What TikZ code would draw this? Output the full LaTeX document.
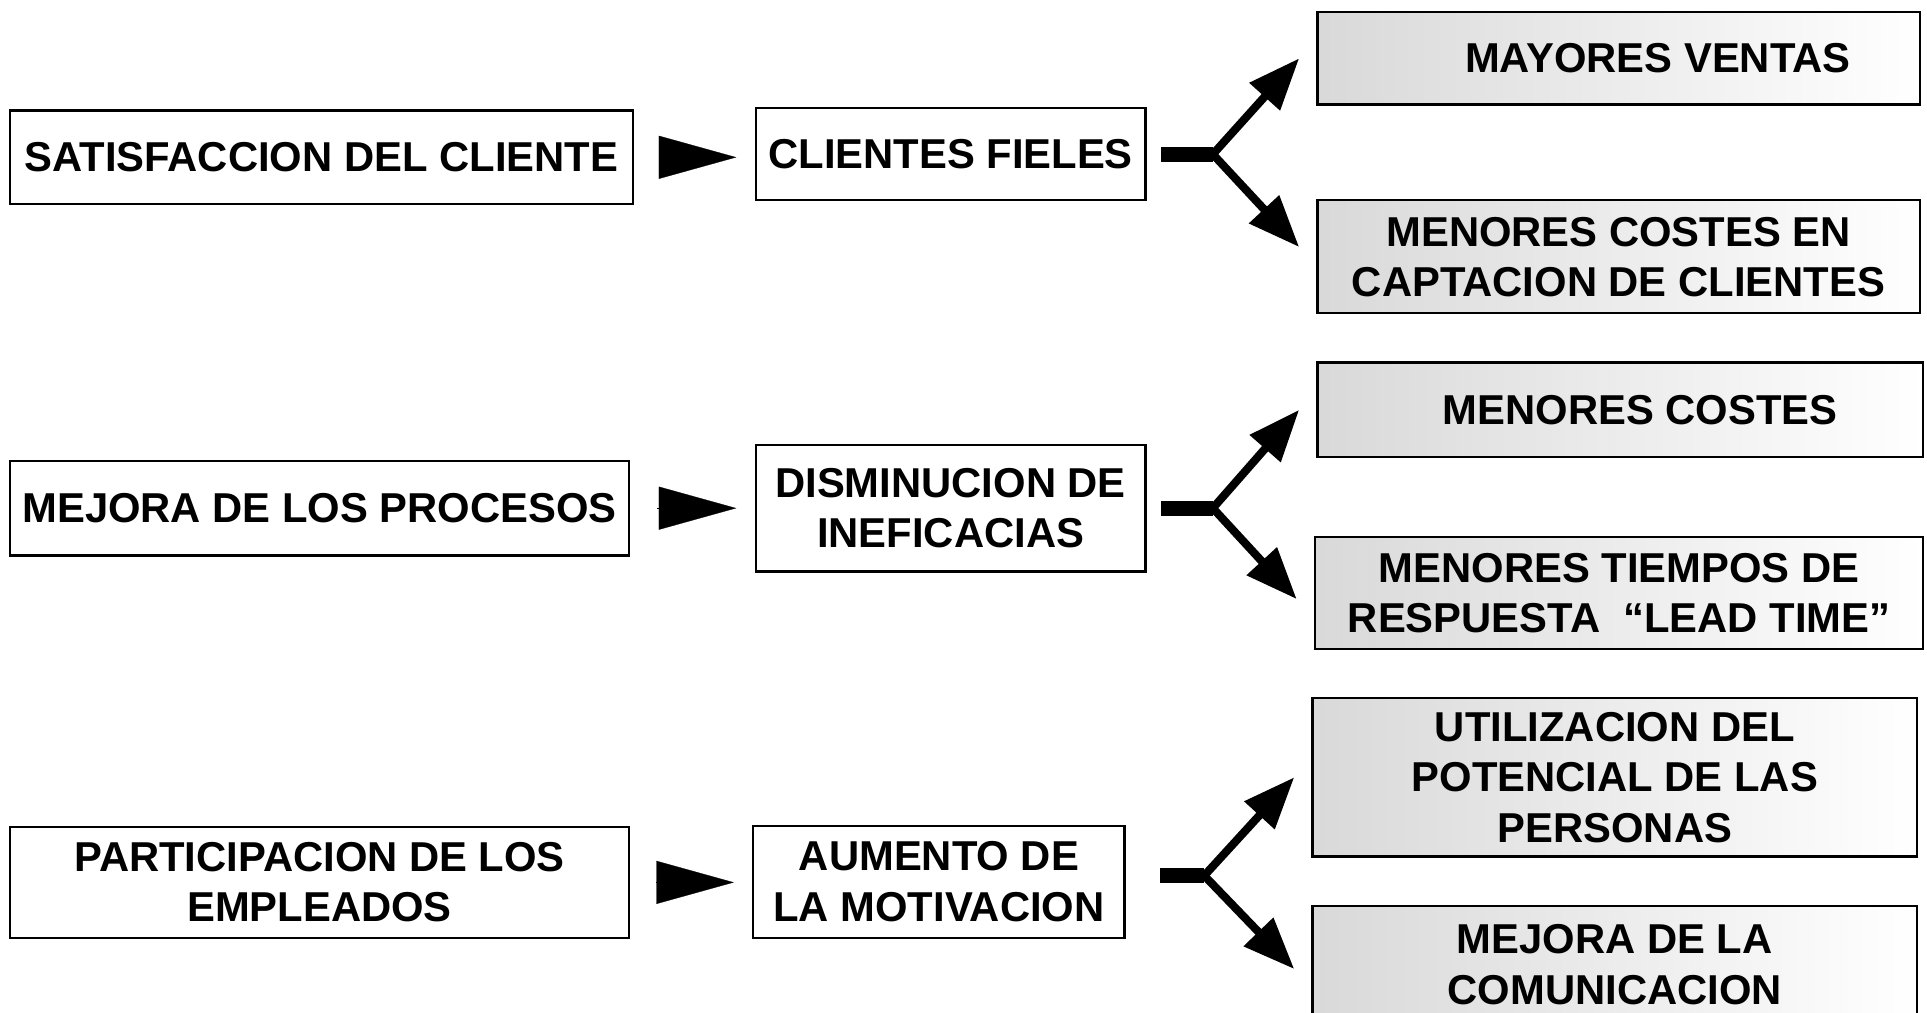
\documentclass[tikz,border=0pt]{standalone}
\usepackage{fontspec}
\setmainfont{Liberation Sans}
\usetikzlibrary{arrows.meta}
\tikzset{
  box/.style={draw=black, line width=0.9pt, fill=white, inner sep=0pt, align=center,
    font=\bfseries\fontsize{17}{20.5}\selectfont},
  gbox/.style={box, left color=black!15, middle color=black!6, right color=white},
  tri/.style={line width=0.1pt, -{Triangle[length=31.5pt,width=17.5pt]}, shorten <=11pt, shorten >=7.5pt},
  stem/.style={line width=6pt},
  branch/.style={line width=3.3pt, line join=round, -{Triangle[length=21pt,width=16pt]}}
}
\begin{document}
\begin{tikzpicture}[x=0.5pt, y=-0.5pt]
\useasboundingbox (0,0) rectangle (1568,824);
\fill[white] (0,0) rectangle (1568,824);
% row 1
\node[box, minimum width=253.5pt, minimum height=38pt] (A1) at (261.5,128) {SATISFACCION DEL CLIENTE};
\node[box, minimum width=158.5pt, minimum height=37.5pt] (B1) at (773.5,125.5) {CLIENTES FIELES};
\node[gbox, minimum width=245pt, minimum height=37.5pt] (C1) at (1317,47.5) {\hspace*{32pt}MAYORES VENTAS};
\node[gbox, minimum width=245pt, minimum height=46pt] (D1) at (1317,209) {MENORES COSTES EN\\CAPTACION DE CLIENTES};
% row 2
\node[box, minimum width=252pt, minimum height=38.5pt] (A2) at (260,413.5) {MEJORA DE LOS PROCESOS};
\node[box, minimum width=158.5pt, minimum height=51.5pt] (B2) at (773.5,413.5) {DISMINUCION DE\\INEFICACIAS};
\node[gbox, minimum width=246.5pt, minimum height=38.5pt] (C2) at (1318.5,333.5) {\hspace*{16pt}MENORES COSTES};
\node[gbox, minimum width=247.5pt, minimum height=45.5pt] (D2) at (1317.5,482.5) {MENORES TIEMPOS DE\\RESPUESTA\ \ ``LEAD TIME''};
% row 3
\node[box, minimum width=252pt, minimum height=45pt] (A3) at (260,718) {PARTICIPACION DE LOS\\EMPLEADOS};
\node[box, minimum width=151pt, minimum height=45.5pt] (B3) at (764,717.5) {AUMENTO DE\\LA MOTIVACION};
\node[gbox, minimum width=246pt, minimum height=64.5pt] (C3) at (1314,632.5) {UTILIZACION DEL\\POTENCIAL DE LAS\\PERSONAS};
\node[gbox, minimum width=246pt, minimum height=51.5pt] (D3) at (1314,788.5) {\raisebox{3.5pt}{\begin{tabular}{@{}c@{}}MEJORA DE LA\\COMUNICACION\end{tabular}}};
% triangles
\draw[tri] (A1.east) -- (A1.east -| B1.west);
\draw[tri] (A2.east) -- (A2.east -| B2.west);
\draw[tri] (A3.east) -- (A3.east -| B3.west);
% forks
\coordinate (J1) at ([xshift=27pt]B1.east);
\coordinate (J2) at ([xshift=27pt]B2.east);
\coordinate (J3) at ([xshift=32pt,yshift=2.5pt]B3.east);
\draw[stem] ([xshift=6pt]B1.east) -- (J1);
\draw[stem] ([xshift=6pt]B2.east) -- (J2);
\draw[stem] ([xshift=14pt,yshift=2.5pt]B3.east) -- (J3);
\draw[branch] (J1) -- ([xshift=-7pt]C1.west);
\draw[branch] (J1) -- ([xshift=-7pt,yshift=4pt]D1.west);
\draw[branch] (J2) -- ([xshift=-7pt]C2.west);
\draw[branch] (J2) -- ([xshift=-7pt,yshift=-2.5pt]D2.west);
\draw[branch] (J3) -- ([xshift=-7pt]C3.west);
\draw[branch] (J3) -- ([xshift=-7pt]D3.west);
\end{tikzpicture}
\end{document}
